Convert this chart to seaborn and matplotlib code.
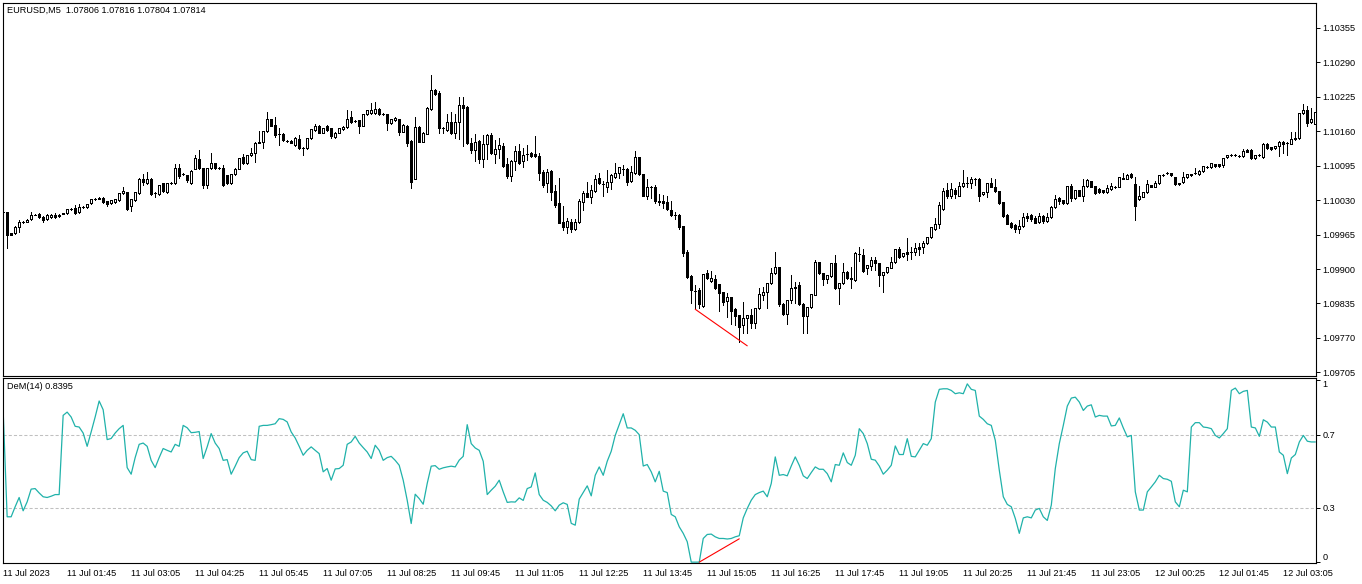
"""
EURUSD M5 candles with a DeMarker(14) sub-window, styled like a MetaTrader chart.
Output: out.png (1362 x 584 px)
"""

import numpy as np
import seaborn as sns
import matplotlib.pyplot as plt

# ── Data ──────────────────────────────────────────────────────────────────────
opens = [
    1.10008, 1.10007, 1.09968, 1.09968, 1.09979, 1.09988, 1.09989, 1.09994, 1.10002, 1.10004,
    1.09999, 1.09994, 1.09998, 1.10002, 1.10000, 1.10004, 1.10005, 1.10013, 1.10015, 1.10007,
    1.10017, 1.10017, 1.10024, 1.10032, 1.10033, 1.10034, 1.10028, 1.10024, 1.10026, 1.10030,
    1.10043, 1.10045, 1.10019, 1.10030, 1.10043, 1.10070, 1.10062, 1.10070, 1.10043, 1.10041,
    1.10062, 1.10045, 1.10062, 1.10062, 1.10090, 1.10079, 1.10077, 1.10062, 1.10089, 1.10107,
    1.10090, 1.10058, 1.10090, 1.10100, 1.10090, 1.10090, 1.10077, 1.10062, 1.10079, 1.10089,
    1.10111, 1.10100, 1.10115, 1.10119, 1.10138, 1.10140, 1.10160, 1.10183, 1.10172, 1.10155,
    1.10155, 1.10142, 1.10142, 1.10134, 1.10145, 1.10128, 1.10128, 1.10147, 1.10162, 1.10170,
    1.10157, 1.10170, 1.10166, 1.10149, 1.10157, 1.10164, 1.10168, 1.10187, 1.10179, 1.10181,
    1.10170, 1.10192, 1.10194, 1.10194, 1.10202, 1.10192, 1.10192, 1.10175, 1.10181, 1.10183,
    1.10159, 1.10170, 1.10142, 1.10070, 1.10168, 1.10140, 1.10155, 1.10202, 1.10238, 1.10232,
    1.10166, 1.10162, 1.10177, 1.10157, 1.10177, 1.10210, 1.10206, 1.10138, 1.10125, 1.10142,
    1.10108, 1.10136, 1.10153, 1.10117, 1.10126, 1.10132, 1.10098, 1.10075, 1.10104, 1.10123,
    1.10104, 1.10117, 1.10119, 1.10117, 1.10113, 1.10083, 1.10062, 1.10085, 1.10047, 1.10024,
    1.09988, 1.09979, 1.09988, 1.09975, 1.09988, 1.10026, 1.10043, 1.10036, 1.10047, 1.10072,
    1.10060, 1.10055, 1.10064, 1.10073, 1.10081, 1.10089, 1.10089, 1.10066, 1.10081, 1.10111,
    1.10079, 1.10038, 1.10055, 1.10055, 1.10028, 1.10028, 1.10026, 1.10011, 1.10002, 1.10002,
    1.09981, 1.09932, 1.09886, 1.09858, 1.09860, 1.09830, 1.09892, 1.09877, 1.09881, 1.09871,
    1.09856, 1.09839, 1.09847, 1.09824, 1.09813, 1.09794, 1.09807, 1.09813, 1.09798, 1.09826,
    1.09851, 1.09856, 1.09873, 1.09892, 1.09903, 1.09834, 1.09815, 1.09841, 1.09866, 1.09870,
    1.09834, 1.09811, 1.09828, 1.09851, 1.09913, 1.09892, 1.09881, 1.09886, 1.09911, 1.09864,
    1.09873, 1.09894, 1.09883, 1.09879, 1.09928, 1.09926, 1.09902, 1.09905, 1.09917, 1.09911,
    1.09888, 1.09894, 1.09902, 1.09913, 1.09937, 1.09924, 1.09932, 1.09932, 1.09932, 1.09941,
    1.09941, 1.09949, 1.09960, 1.09975, 1.09985, 1.10013, 1.10049, 1.10038, 1.10049, 1.10038,
    1.10056, 1.10062, 1.10062, 1.10070, 1.10070, 1.10041, 1.10045, 1.10062, 1.10055, 1.10047,
    1.10026, 1.10002, 1.09987, 1.09983, 1.09975, 1.09981, 1.10000, 1.10002, 1.09996, 1.09988,
    1.10000, 1.09990, 1.09998, 1.10017, 1.10034, 1.10030, 1.10024, 1.10056, 1.10034, 1.10049,
    1.10038, 1.10056, 1.10066, 1.10056, 1.10051, 1.10049, 1.10045, 1.10051, 1.10055, 1.10055,
    1.10072, 1.10070, 1.10079, 1.10060, 1.10032, 1.10036, 1.10045, 1.10058, 1.10055, 1.10062,
    1.10077, 1.10081, 1.10081, 1.10073, 1.10062, 1.10064, 1.10073, 1.10077, 1.10081, 1.10079,
    1.10085, 1.10092, 1.10092, 1.10098, 1.10098, 1.10096, 1.10111, 1.10115, 1.10115, 1.10113,
    1.10113, 1.10125, 1.10125, 1.10109, 1.10115, 1.10111, 1.10136, 1.10130, 1.10128, 1.10132,
    1.10140, 1.10138, 1.10136, 1.10145, 1.10147, 1.10194, 1.10200, 1.10177, 1.10174,
]
highs = [
    1.10009, 1.10007, 1.09968, 1.09981, 1.09992, 1.09990, 1.09994, 1.10007, 1.10003, 1.10005,
    1.10000, 1.10003, 1.10003, 1.10005, 1.10003, 1.10006, 1.10014, 1.10015, 1.10021, 1.10022,
    1.10018, 1.10023, 1.10033, 1.10034, 1.10036, 1.10035, 1.10029, 1.10031, 1.10033, 1.10044,
    1.10055, 1.10046, 1.10033, 1.10046, 1.10071, 1.10079, 1.10083, 1.10071, 1.10045, 1.10059,
    1.10063, 1.10063, 1.10064, 1.10098, 1.10098, 1.10081, 1.10078, 1.10086, 1.10115, 1.10125,
    1.10091, 1.10091, 1.10119, 1.10101, 1.10092, 1.10096, 1.10078, 1.10080, 1.10090, 1.10110,
    1.10117, 1.10116, 1.10128, 1.10139, 1.10160, 1.10161, 1.10196, 1.10184, 1.10187, 1.10166,
    1.10156, 1.10144, 1.10143, 1.10149, 1.10153, 1.10130, 1.10148, 1.10165, 1.10174, 1.10171,
    1.10167, 1.10171, 1.10167, 1.10158, 1.10167, 1.10169, 1.10200, 1.10198, 1.10181, 1.10182,
    1.10193, 1.10201, 1.10213, 1.10215, 1.10203, 1.10194, 1.10193, 1.10184, 1.10186, 1.10184,
    1.10173, 1.10171, 1.10143, 1.10187, 1.10169, 1.10158, 1.10205, 1.10266, 1.10240, 1.10236,
    1.10168, 1.10192, 1.10196, 1.10192, 1.10225, 1.10225, 1.10208, 1.10147, 1.10155, 1.10143,
    1.10153, 1.10154, 1.10157, 1.10143, 1.10147, 1.10138, 1.10109, 1.10105, 1.10132, 1.10136,
    1.10128, 1.10134, 1.10120, 1.10151, 1.10119, 1.10087, 1.10089, 1.10086, 1.10058, 1.10072,
    1.10019, 1.09996, 1.09994, 1.09994, 1.10032, 1.10047, 1.10064, 1.10058, 1.10077, 1.10081,
    1.10066, 1.10087, 1.10079, 1.10100, 1.10093, 1.10096, 1.10090, 1.10094, 1.10123, 1.10112,
    1.10080, 1.10070, 1.10057, 1.10058, 1.10041, 1.10039, 1.10038, 1.10028, 1.10007, 1.10003,
    1.09982, 1.09936, 1.09888, 1.09870, 1.09864, 1.09891, 1.09898, 1.09896, 1.09888, 1.09872,
    1.09857, 1.09854, 1.09848, 1.09826, 1.09814, 1.09837, 1.09814, 1.09824, 1.09827, 1.09864,
    1.09866, 1.09874, 1.09902, 1.09932, 1.09904, 1.09835, 1.09842, 1.09888, 1.09875, 1.09875,
    1.09835, 1.09829, 1.09853, 1.09917, 1.09914, 1.09893, 1.09889, 1.09912, 1.09926, 1.09874,
    1.09911, 1.09896, 1.09903, 1.09932, 1.09941, 1.09937, 1.09908, 1.09922, 1.09922, 1.09912,
    1.09895, 1.09904, 1.09922, 1.09938, 1.09941, 1.09931, 1.09958, 1.09941, 1.09949, 1.09949,
    1.09953, 1.09961, 1.09980, 1.09996, 1.10026, 1.10053, 1.10062, 1.10062, 1.10053, 1.10064,
    1.10087, 1.10073, 1.10073, 1.10072, 1.10071, 1.10046, 1.10063, 1.10072, 1.10070, 1.10048,
    1.10027, 1.10003, 1.09988, 1.09984, 1.09992, 1.10005, 1.10005, 1.10004, 1.10000, 1.10005,
    1.10001, 1.10005, 1.10018, 1.10039, 1.10036, 1.10031, 1.10057, 1.10060, 1.10050, 1.10050,
    1.10070, 1.10069, 1.10067, 1.10057, 1.10052, 1.10050, 1.10058, 1.10062, 1.10057, 1.10074,
    1.10081, 1.10079, 1.10081, 1.10074, 1.10056, 1.10046, 1.10068, 1.10059, 1.10066, 1.10078,
    1.10079, 1.10083, 1.10082, 1.10074, 1.10063, 1.10083, 1.10080, 1.10080, 1.10090, 1.10086,
    1.10095, 1.10094, 1.10101, 1.10099, 1.10099, 1.10110, 1.10116, 1.10117, 1.10117, 1.10115,
    1.10126, 1.10126, 1.10127, 1.10116, 1.10117, 1.10137, 1.10138, 1.10131, 1.10133, 1.10142,
    1.10142, 1.10140, 1.10159, 1.10159, 1.10195, 1.10211, 1.10208, 1.10204, 1.10197,
]
lows = [
    1.10006, 1.09939, 1.09964, 1.09967, 1.09969, 1.09987, 1.09988, 1.09993, 1.10001, 1.09997,
    1.09988, 1.09993, 1.09997, 1.09996, 1.09998, 1.10003, 1.10004, 1.10012, 1.10004, 1.10006,
    1.10016, 1.10016, 1.10023, 1.10031, 1.10032, 1.10025, 1.10019, 1.10023, 1.10025, 1.10029,
    1.10042, 1.10011, 1.10009, 1.10029, 1.10042, 1.10058, 1.10061, 1.10040, 1.10036, 1.10040,
    1.10046, 1.10044, 1.10060, 1.10061, 1.10072, 1.10077, 1.10064, 1.10061, 1.10088, 1.10089,
    1.10053, 1.10053, 1.10089, 1.10089, 1.10088, 1.10057, 1.10061, 1.10061, 1.10078, 1.10088,
    1.10098, 1.10099, 1.10114, 1.10102, 1.10137, 1.10129, 1.10159, 1.10169, 1.10149, 1.10134,
    1.10142, 1.10140, 1.10137, 1.10133, 1.10127, 1.10115, 1.10127, 1.10146, 1.10161, 1.10156,
    1.10156, 1.10161, 1.10147, 1.10148, 1.10156, 1.10163, 1.10167, 1.10176, 1.10177, 1.10157,
    1.10169, 1.10191, 1.10193, 1.10193, 1.10191, 1.10190, 1.10162, 1.10174, 1.10180, 1.10153,
    1.10158, 1.10132, 1.10053, 1.10069, 1.10139, 1.10139, 1.10154, 1.10201, 1.10228, 1.10157,
    1.10157, 1.10161, 1.10155, 1.10147, 1.10145, 1.10132, 1.10136, 1.10119, 1.10104, 1.10100,
    1.10093, 1.10108, 1.10118, 1.10100, 1.10110, 1.10093, 1.10072, 1.10066, 1.10087, 1.10099,
    1.10093, 1.10106, 1.10111, 1.10111, 1.10068, 1.10055, 1.10045, 1.10030, 1.10017, 1.09986,
    1.09973, 1.09968, 1.09970, 1.09974, 1.09987, 1.10011, 1.10035, 1.10024, 1.10046, 1.10061,
    1.10038, 1.10045, 1.10051, 1.10072, 1.10072, 1.10077, 1.10058, 1.10064, 1.10080, 1.10078,
    1.10037, 1.10032, 1.10034, 1.10024, 1.10021, 1.10015, 1.10012, 1.10000, 1.09994, 1.09975,
    1.09924, 1.09883, 1.09835, 1.09824, 1.09826, 1.09828, 1.09882, 1.09876, 1.09863, 1.09820,
    1.09832, 1.09809, 1.09796, 1.09794, 1.09762, 1.09779, 1.09779, 1.09788, 1.09788, 1.09825,
    1.09841, 1.09826, 1.09872, 1.09891, 1.09830, 1.09814, 1.09796, 1.09835, 1.09835, 1.09833,
    1.09779, 1.09779, 1.09826, 1.09850, 1.09891, 1.09870, 1.09873, 1.09885, 1.09863, 1.09834,
    1.09872, 1.09882, 1.09864, 1.09878, 1.09915, 1.09895, 1.09890, 1.09898, 1.09898, 1.09868,
    1.09856, 1.09893, 1.09901, 1.09912, 1.09921, 1.09923, 1.09917, 1.09918, 1.09926, 1.09926,
    1.09930, 1.09948, 1.09959, 1.09974, 1.09977, 1.10012, 1.10034, 1.10034, 1.10034, 1.10037,
    1.10055, 1.10055, 1.10053, 1.10058, 1.10028, 1.10040, 1.10036, 1.10054, 1.10046, 1.10023,
    1.09999, 1.09984, 1.09977, 1.09970, 1.09968, 1.09980, 1.09990, 1.09990, 1.09986, 1.09987,
    1.09987, 1.09989, 1.09997, 1.10016, 1.10022, 1.10023, 1.10023, 1.10028, 1.10033, 1.10037,
    1.10028, 1.10055, 1.10054, 1.10042, 1.10044, 1.10043, 1.10044, 1.10050, 1.10053, 1.10054,
    1.10069, 1.10069, 1.10072, 1.09992, 1.10031, 1.10035, 1.10044, 1.10054, 1.10054, 1.10061,
    1.10076, 1.10080, 1.10076, 1.10059, 1.10059, 1.10063, 1.10072, 1.10076, 1.10079, 1.10078,
    1.10084, 1.10091, 1.10091, 1.10093, 1.10093, 1.10092, 1.10110, 1.10114, 1.10114, 1.10112,
    1.10112, 1.10120, 1.10108, 1.10108, 1.10113, 1.10110, 1.10127, 1.10125, 1.10127, 1.10113,
    1.10119, 1.10115, 1.10135, 1.10144, 1.10146, 1.10193, 1.10170, 1.10176, 1.10173,
]
closes = [
    1.10007, 1.09964, 1.09965, 1.09980, 1.09988, 1.09989, 1.09992, 1.10002, 1.10002, 1.09998,
    1.09992, 1.10002, 1.10002, 1.09998, 1.10001, 1.10005, 1.10013, 1.10013, 1.10005, 1.10017,
    1.10017, 1.10022, 1.10032, 1.10032, 1.10034, 1.10026, 1.10022, 1.10030, 1.10032, 1.10043,
    1.10047, 1.10013, 1.10032, 1.10045, 1.10070, 1.10064, 1.10070, 1.10041, 1.10043, 1.10058,
    1.10047, 1.10062, 1.10062, 1.10090, 1.10075, 1.10079, 1.10068, 1.10085, 1.10109, 1.10090,
    1.10058, 1.10090, 1.10100, 1.10090, 1.10090, 1.10058, 1.10062, 1.10079, 1.10089, 1.10109,
    1.10100, 1.10115, 1.10119, 1.10138, 1.10140, 1.10160, 1.10183, 1.10170, 1.10153, 1.10155,
    1.10143, 1.10142, 1.10138, 1.10147, 1.10128, 1.10128, 1.10147, 1.10164, 1.10170, 1.10157,
    1.10166, 1.10162, 1.10151, 1.10157, 1.10166, 1.10168, 1.10183, 1.10177, 1.10179, 1.10170,
    1.10192, 1.10200, 1.10200, 1.10202, 1.10192, 1.10192, 1.10175, 1.10183, 1.10185, 1.10159,
    1.10172, 1.10138, 1.10064, 1.10168, 1.10140, 1.10157, 1.10204, 1.10238, 1.10230, 1.10166,
    1.10166, 1.10177, 1.10157, 1.10177, 1.10210, 1.10204, 1.10138, 1.10125, 1.10140, 1.10108,
    1.10136, 1.10153, 1.10119, 1.10126, 1.10134, 1.10094, 1.10075, 1.10104, 1.10123, 1.10100,
    1.10115, 1.10117, 1.10113, 1.10113, 1.10081, 1.10058, 1.10083, 1.10045, 1.10021, 1.09987,
    1.09979, 1.09990, 1.09975, 1.09988, 1.10028, 1.10043, 1.10036, 1.10049, 1.10070, 1.10062,
    1.10060, 1.10064, 1.10077, 1.10081, 1.10092, 1.10089, 1.10064, 1.10083, 1.10111, 1.10079,
    1.10038, 1.10055, 1.10055, 1.10028, 1.10026, 1.10024, 1.10013, 1.10002, 1.10002, 1.09979,
    1.09930, 1.09884, 1.09860, 1.09858, 1.09834, 1.09890, 1.09883, 1.09883, 1.09864, 1.09854,
    1.09837, 1.09847, 1.09821, 1.09811, 1.09790, 1.09807, 1.09813, 1.09798, 1.09826, 1.09852,
    1.09856, 1.09873, 1.09892, 1.09903, 1.09834, 1.09815, 1.09841, 1.09864, 1.09864, 1.09834,
    1.09811, 1.09828, 1.09852, 1.09913, 1.09892, 1.09881, 1.09888, 1.09911, 1.09864, 1.09873,
    1.09894, 1.09883, 1.09881, 1.09930, 1.09928, 1.09896, 1.09907, 1.09917, 1.09911, 1.09888,
    1.09894, 1.09903, 1.09913, 1.09937, 1.09922, 1.09930, 1.09928, 1.09932, 1.09939, 1.09937,
    1.09949, 1.09960, 1.09979, 1.09985, 1.10021, 1.10047, 1.10038, 1.10051, 1.10041, 1.10056,
    1.10062, 1.10062, 1.10070, 1.10070, 1.10038, 1.10045, 1.10062, 1.10055, 1.10047, 1.10024,
    1.10000, 1.09985, 1.09979, 1.09975, 1.09981, 1.09998, 1.09996, 1.09994, 1.09987, 1.10000,
    1.09990, 1.09998, 1.10017, 1.10032, 1.10028, 1.10024, 1.10056, 1.10034, 1.10049, 1.10038,
    1.10056, 1.10068, 1.10055, 1.10043, 1.10045, 1.10045, 1.10053, 1.10056, 1.10055, 1.10073,
    1.10070, 1.10077, 1.10073, 1.10019, 1.10038, 1.10045, 1.10060, 1.10055, 1.10062, 1.10077,
    1.10077, 1.10081, 1.10077, 1.10060, 1.10060, 1.10073, 1.10079, 1.10079, 1.10081, 1.10085,
    1.10094, 1.10092, 1.10100, 1.10094, 1.10094, 1.10109, 1.10115, 1.10115, 1.10115, 1.10113,
    1.10123, 1.10121, 1.10109, 1.10115, 1.10115, 1.10136, 1.10128, 1.10126, 1.10132, 1.10140,
    1.10136, 1.10138, 1.10145, 1.10147, 1.10194, 1.10200, 1.10175, 1.10183, 1.10196,
]
dem = [
    0.833, 0.249, 0.249, 0.304, 0.355, 0.282, 0.331, 0.401, 0.404, 0.380,
    0.359, 0.355, 0.362, 0.371, 0.371, 0.806, 0.824, 0.797, 0.746, 0.742,
    0.709, 0.636, 0.715, 0.797, 0.885, 0.837, 0.673, 0.679, 0.709, 0.733,
    0.751, 0.519, 0.483, 0.574, 0.647, 0.654, 0.636, 0.559, 0.519, 0.574,
    0.624, 0.614, 0.605, 0.647, 0.636, 0.751, 0.738, 0.711, 0.713, 0.717,
    0.569, 0.633, 0.706, 0.654, 0.624, 0.559, 0.563, 0.483, 0.527, 0.574,
    0.600, 0.609, 0.563, 0.559, 0.746, 0.751, 0.751, 0.755, 0.760, 0.788,
    0.784, 0.770, 0.715, 0.682, 0.636, 0.587, 0.614, 0.633, 0.614, 0.596,
    0.496, 0.514, 0.450, 0.512, 0.514, 0.532, 0.647, 0.660, 0.691, 0.654,
    0.629, 0.605, 0.569, 0.642, 0.614, 0.559, 0.574, 0.581, 0.559, 0.532,
    0.450, 0.340, 0.212, 0.373, 0.349, 0.318, 0.432, 0.527, 0.530, 0.510,
    0.518, 0.523, 0.527, 0.523, 0.560, 0.581, 0.755, 0.651, 0.627, 0.614,
    0.554, 0.371, 0.395, 0.417, 0.450, 0.386, 0.328, 0.331, 0.330, 0.353,
    0.339, 0.404, 0.413, 0.490, 0.371, 0.340, 0.328, 0.309, 0.282, 0.313,
    0.326, 0.317, 0.213, 0.203, 0.346, 0.382, 0.419, 0.364, 0.477, 0.523,
    0.477, 0.554, 0.609, 0.696, 0.755, 0.815, 0.737, 0.737, 0.724, 0.700,
    0.528, 0.536, 0.496, 0.441, 0.499, 0.390, 0.382, 0.262, 0.249, 0.194,
    0.158, 0.112, 0.000, 0.000, 0.000, 0.130, 0.152, 0.154, 0.139, 0.130,
    0.130, 0.127, 0.130, 0.139, 0.145, 0.243, 0.295, 0.340, 0.371, 0.382,
    0.390, 0.359, 0.432, 0.578, 0.477, 0.481, 0.474, 0.528, 0.578, 0.532,
    0.474, 0.459, 0.492, 0.523, 0.510, 0.510, 0.486, 0.441, 0.536, 0.532,
    0.600, 0.547, 0.532, 0.587, 0.733, 0.706, 0.651, 0.565, 0.560, 0.528,
    0.483, 0.505, 0.532, 0.638, 0.591, 0.591, 0.678, 0.581, 0.578, 0.614,
    0.651, 0.642, 0.678, 0.879, 0.949, 0.952, 0.952, 0.943, 0.925, 0.930,
    0.925, 0.979, 0.949, 0.943, 0.802, 0.784, 0.760, 0.751, 0.669, 0.505,
    0.359, 0.317, 0.304, 0.240, 0.158, 0.243, 0.249, 0.243, 0.286, 0.295,
    0.249, 0.229, 0.313, 0.514, 0.651, 0.751, 0.857, 0.901, 0.906, 0.879,
    0.833, 0.857, 0.864, 0.797, 0.806, 0.802, 0.802, 0.748, 0.751, 0.792,
    0.737, 0.688, 0.696, 0.386, 0.286, 0.286, 0.386, 0.413, 0.441, 0.477,
    0.459, 0.455, 0.444, 0.331, 0.304, 0.395, 0.386, 0.742, 0.766, 0.766,
    0.742, 0.739, 0.733, 0.696, 0.682, 0.706, 0.733, 0.943, 0.956, 0.925,
    0.938, 0.943, 0.742, 0.737, 0.691, 0.782, 0.769, 0.742, 0.742, 0.605,
    0.587, 0.486, 0.572, 0.591, 0.660, 0.696, 0.664, 0.660, 0.660,
]

# divergence lines (bar index, value)
price_div_bar = [173, 186]
price_div_val = [1.09824, 1.09755]
dem_div_bar = [174, 184]
dem_div_val = [0.000, 0.128]

dem_levels = [0.3, 0.7]
dem_ticks = [0, 0.3, 0.7, 1]
dem_tick_labels = ["0", "0.3", "0.7", "1"]

price_ticks = [1.10355, 1.10290, 1.10225, 1.10160, 1.10095, 1.10030,
               1.09965, 1.09900, 1.09835, 1.09770, 1.09705]

time_tick_bars = list(range(0, 321, 16))
time_labels = [
    "11 Jul 2023", "11 Jul 01:45", "11 Jul 03:05", "11 Jul 04:25", "11 Jul 05:45",
    "11 Jul 07:05", "11 Jul 08:25", "11 Jul 09:45", "11 Jul 11:05", "11 Jul 12:25",
    "11 Jul 13:45", "11 Jul 15:05", "11 Jul 16:25", "11 Jul 17:45", "11 Jul 19:05",
    "11 Jul 20:25", "11 Jul 21:45", "11 Jul 23:05", "12 Jul 00:25", "12 Jul 01:45",
    "12 Jul 03:05",
]

header = "EURUSD,M5  1.07806 1.07816 1.07804 1.07814"
dem_header = "DeM(14) 0.8395"

# ── Style ─────────────────────────────────────────────────────────────────────
sns.set_style("white")
plt.rcParams["font.family"] = ["Liberation Sans", "DejaVu Sans"]
plt.rcParams["font.size"] = 6.6

W, H = 1362, 584
fig = plt.figure(figsize=(W / 100, H / 100), dpi=100, facecolor="white")

def px_axes(left, top, right, bottom):
    return fig.add_axes([left / W, 1 - bottom / H, (right - left) / W, (bottom - top) / H])

ax = px_axes(2.5, 2.5, 1315.5, 375.5)
ax2 = px_axes(2.5, 377.5, 1315.5, 562.5)

bars = np.arange(len(closes))
o, h, l, c = map(np.asarray, (opens, highs, lows, closes))
up = c >= o

# ── Candles ───────────────────────────────────────────────────────────────────
ax.vlines(bars, l, h, color="black", linewidth=0.7, zorder=2, antialiased=False)
ax.bar(bars, np.abs(c - o), bottom=np.minimum(o, c), width=0.48,
       color=np.where(up, "white", "black"), edgecolor="black",
       linewidth=0.6, zorder=3, antialiased=False)
sns.lineplot(x=price_div_bar, y=price_div_val, ax=ax, color="red", linewidth=0.8)

ax.set_xlim(-0.16, 328.04)
ax.set_ylim(1.09699, 1.10403)
ax.yaxis.tick_right()
ax.set_yticks(price_ticks)
ax.set_yticklabels([f"{p:.5f}" for p in price_ticks])
ax.tick_params(axis="y", direction="out", length=3, width=0.7, pad=2, colors="black")
ax.set_xticks([])

# ── DeMarker ──────────────────────────────────────────────────────────────────
for lvl in dem_levels:
    ax2.axhline(lvl, color="#c0c0c0", linewidth=0.75, linestyle=(0, (3, 2)), zorder=1)
sns.lineplot(x=bars, y=dem, ax=ax2, color="#20b2aa", linewidth=0.9)
sns.lineplot(x=dem_div_bar, y=dem_div_val, ax=ax2, color="red", linewidth=0.8)

ax2.set_xlim(-0.16, 328.04)
ax2.set_ylim(-0.002, 1.014)
ax2.yaxis.tick_right()
ax2.set_yticks(dem_ticks)
ax2.set_yticklabels(dem_tick_labels)
ylabels = ax2.get_yticklabels()
ylabels[0].set_va("bottom")
ylabels[-1].set_va("top")
ax2.tick_params(axis="y", direction="out", length=3, width=0.7, pad=2, colors="black")

ax2.set_xticks(time_tick_bars)
ax2.set_xticklabels(time_labels, ha="left")
ax2.tick_params(axis="x", direction="out", length=4, width=0.7, pad=1, colors="black")
ax2.set_xlabel("")
ax2.set_ylabel("")
ax.set_xlabel("")
ax.set_ylabel("")

for a in (ax, ax2):
    for s in a.spines.values():
        s.set_color("black")
        s.set_linewidth(0.8)
    a.grid(False)

fig.text(7 / W, 1 - 10.5 / H, header, ha="left", va="center", color="black")
fig.text(7 / W, 1 - 386.5 / H, dem_header, ha="left", va="center", color="black")

fig.savefig("out.png", dpi=100)
plt.close(fig)
